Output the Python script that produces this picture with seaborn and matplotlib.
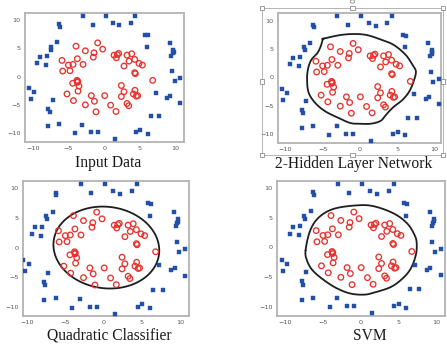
import numpy as np
import pandas as pd
import matplotlib
matplotlib.use("Agg")
import matplotlib.pyplot as plt
from matplotlib.patches import Rectangle, Circle
import seaborn as sns

# ---- data -------------------------------------------------------------
inner_x = [-0.91, -3.94, -0.21, -2.63, -1.42, -1.52, -3.75, -5.9, -5.0, -4.36,
           -2.96, -5.8, -4.78, 1.38, 2.03, 1.84, 1.7, 3.19, 3.85, 3.47,
           4.27, 2.77, 4.87, 5.34, 4.27, 4.36, 6.78, -3.8, -3.7, -3.75,
           -4.4, -3.52, -3.66, -5.2, -4.3, -2.63, -1.8, -1.37, -1.14, 0.07,
           0.9, 1.65, 2.4, 2.77, 2.4, 3.19, 3.43, 4.3, 4.08, 4.5, 4.68]
inner_y = [5.99, 5.4, 4.87, 4.57, 4.22, 3.45, 3.16, 2.86, 2.04, 2.15,
           2.15, 0.97, 1.03, 3.8, 4.1, 3.9, 3.33, 3.8, 4.04, 2.74,
           3.04, 1.86, 2.33, 2.04, 0.68, 0.5, -0.68, -0.68, -0.86, -1.03,
           -1.2, -1.68, -2.6, -3.1, -4.28, -5.04, -3.4, -4.4, -6.28, -3.4,
           -5.1, -6.22, -1.6, -2.7, -3.57, -4.8, -5.2, -2.45, -3.1, -3.5, -3.4]

outer_x = [-3.0, 0.2, 4.36, 1.28, 2.12, 3.7, -1.6, -6.27, -6.22, 5.76,
           6.18, 6.0, 9.16, 9.67, 9.72, 9.63, 9.4, 9.5, 9.86, 10.6,
           10.6, 9.25, 8.83, 7.25, 6.5, 7.7, 6.08, 5.06, 4.45, 1.5,
           -0.9, -1.8, -3.1, -4.1, -6.27, -7.8, -7.8, -7.6, -7.2, -10.46,
           -10.3, -9.77, -9.35, -8.97, -8.2, -8.0, -7.5, -7.4, -6.64]
outer_y = [10.77, 10.8, 10.77, 9.53, 9.1, 9.6, 9.2, 9.3, 8.8, 7.46,
           7.3, 5.3, 6.05, 4.8, 4.4, 4.1, 3.7, 1.0, -0.8, -0.27,
           -4.7, -3.45, -3.75, -2.9, -7.05, -7.05, -10.2, -9.5, -9.9, -11.1,
           -9.9, -9.9, -8.6, -10.1, -8.5, -8.8, -5.7, -6.3, -4.2, -2.1,
           -4.0, -2.8, 2.33, 3.5, 2.04, 3.57, 5.28, 4.8, 6.1]

# decision boundary of the 2-hidden-layer network (traced vertices)
nn_x = [-4.83, -2.13, 0.56, 2.81, 4.6, 6.18, 7.08, 7.53, 7.21, 6.63, 5.73,
        4.6, 3.71, 2.81, 1.46, 0.11, -1.24, -2.81, -4.61, -5.96, -6.85,
        -7.08, -6.99, -6.54, -5.73, -5.28, -4.97]
nn_y = [6.85, 7.55, 7.55, 6.68, 5.69, 3.94, 2.19, 1.02, -0.73, -2.48, -3.94,
        -5.1, -6.27, -7.61, -8.13, -8.13, -8.02, -7.14, -5.98, -4.52, -2.77,
        -0.73, 1.31, 3.06, 4.23, 5.39, 6.68]

# SVM decision boundary (traced vertices)
svm_x = [-7.31, -6.69, -5.5, -3.51, -0.42, 1.79, 4.44, 6.2, 7.17, 7.44, 7.31,
         6.64, 5.54, 4.0, 1.77, 0.46, -1.3, -3.07, -4.84, -6.38, -7.13]
svm_y = [-0.48, 2.9, 5.15, 6.56, 7.13, 6.96, 5.72, 4.03, 2.06, 0.65, -1.32,
         -3.58, -5.27, -6.68, -7.63, -7.97, -7.8, -6.96, -5.55, -3.86, -2.17]

# quadratic classifier: (p - c)^T S^-1 (p - c) = 1
quad_center = [0.35, 0.03]
quad_cov = [[47.6, -3.3], [-3.3, 47.6]]

titles = ["Input Data", "2-Hidden Layer Network", "Quadratic Classifier", "SVM"]
ticks = [-10, -5, 0, 5, 10]

# ---- styling ----------------------------------------------------------
sns.set_style("white")
plt.rcParams["font.family"] = ["DejaVu Sans"]

W, H = 447, 345
BLUE = "#2150a6"
RED = "#e8322d"
LINE = "#1e1e1e"

fig = plt.figure(figsize=(W / 100, H / 100), dpi=100)


def fx(x):
    return x / W


def fy(y):
    return 1 - y / H


def add_panel(l, r, t, b, xlim, ylim):
    ax = fig.add_axes([fx(l), fy(b), (r - l) / W, (b - t) / H])
    ax.set_xlim(*xlim)
    ax.set_ylim(*ylim)
    ax.set_xticks(ticks)
    ax.set_yticks(ticks)
    ax.tick_params(labelsize=4.6, labelcolor="#555555", length=1.5,
                   width=0.5, color="#999999", pad=1.5)
    for sp in ax.spines.values():
        sp.set_color("#b3b3b3")
        sp.set_linewidth(1.3)
    ax.set_xlabel("")
    ax.set_ylabel("")
    return ax


pts_in = pd.DataFrame({"x": inner_x, "y": inner_y})
pts_out = pd.DataFrame({"x": outer_x, "y": outer_y})


def draw_points(ax):
    sns.scatterplot(data=pts_out, x="x", y="y", marker="s", s=12,
                    color=BLUE, edgecolor=BLUE, linewidth=0.3, ax=ax,
                    zorder=3)
    sns.scatterplot(data=pts_in, x="x", y="y", marker="o", s=16,
                    facecolor="none", edgecolor=RED, linewidth=0.95, ax=ax,
                    zorder=3)
    ax.set_xlabel("")
    ax.set_ylabel("")


def closed_curve(xs, ys, n=16):
    # periodic Catmull-Rom curve through the boundary vertices
    p = np.column_stack([xs, ys])
    pm1 = np.roll(p, 1, 0)
    p1 = np.roll(p, -1, 0)
    p2 = np.roll(p, -2, 0)
    t = np.linspace(0, 1, n, endpoint=False)[:, None, None]
    seg = 0.5 * (2 * p + (-pm1 + p1) * t
                 + (2 * pm1 - 5 * p + 4 * p1 - p2) * t ** 2
                 + (-pm1 + 3 * p - 3 * p1 + p2) * t ** 3)
    seg = seg.transpose(1, 0, 2).reshape(-1, 2)
    seg = np.vstack([seg, seg[:1]])
    return seg[:, 0], seg[:, 1]


panels = [
    (25, 184, 13, 142, (-11.07, 11.16), (-11.65, 11.3)),
    (278, 441, 13, 143, (-10.99, 10.9), (-11.52, 11.34)),
    (23, 189, 181, 316, (-10.52, 11.13), (-11.5, 11.24)),
    (277, 445, 181, 316, (-11.1, 11.19), (-11.58, 11.24)),
]
axes = [add_panel(*p) for p in panels]
for ax in axes:
    draw_points(ax)

# network boundary
bx, by = closed_curve(nn_x, nn_y)
axes[1].plot(bx, by, color=LINE, lw=1.3, zorder=2)

# quadratic boundary
gx, gy = np.meshgrid(np.linspace(-11, 11.5, 400), np.linspace(-12, 12, 400))
inv = np.linalg.inv(np.array(quad_cov))
dx, dy = gx - quad_center[0], gy - quad_center[1]
F = inv[0, 0] * dx ** 2 + 2 * inv[0, 1] * dx * dy + inv[1, 1] * dy ** 2 - 1
axes[2].contour(gx, gy, F, levels=[0], colors=LINE, linewidths=1.3, zorder=2)

# SVM boundary
sx, sy = closed_curve(svm_x, svm_y)
axes[3].plot(sx, sy, color=LINE, lw=1.3, zorder=2)

# panel captions
caption_pos = [(108, 167.5), (354, 168), (109, 340), (370, 340)]
for (cx, cy), txt in zip(caption_pos, titles):
    fig.text(fx(cx), fy(cy), txt, ha="center", va="baseline",
             fontsize=11.2, family=["Liberation Serif", "DejaVu Serif"],
             color="#1a1a1a")

# selection frame with handles around the network panel
L, R, T, B = 262, 443, 8, 155
fig.add_artist(Rectangle((fx(L), fy(B)), (R - L) / W, (B - T) / H,
                         transform=fig.transFigure, fill=False,
                         edgecolor="#a8a8a8", lw=0.6, zorder=10))
hs = 4.5
for hx in (L, (L + R) / 2, R):
    for hy in (T, (T + B) / 2, B):
        if hx == (L + R) / 2 and hy == (T + B) / 2:
            continue
        fig.add_artist(Rectangle((fx(hx - hs / 2), fy(hy + hs / 2)),
                                 hs / W, hs / H, transform=fig.transFigure,
                                 facecolor="white", edgecolor="#8c8c8c",
                                 lw=0.6, zorder=11))
fig.add_artist(Circle((fx((L + R) / 2), fy(1.5)), 2.2 / W,
                      transform=fig.transFigure, facecolor="white",
                      edgecolor="#8c8c8c", lw=0.6, zorder=11))

fig.savefig("out.png", dpi=100)
